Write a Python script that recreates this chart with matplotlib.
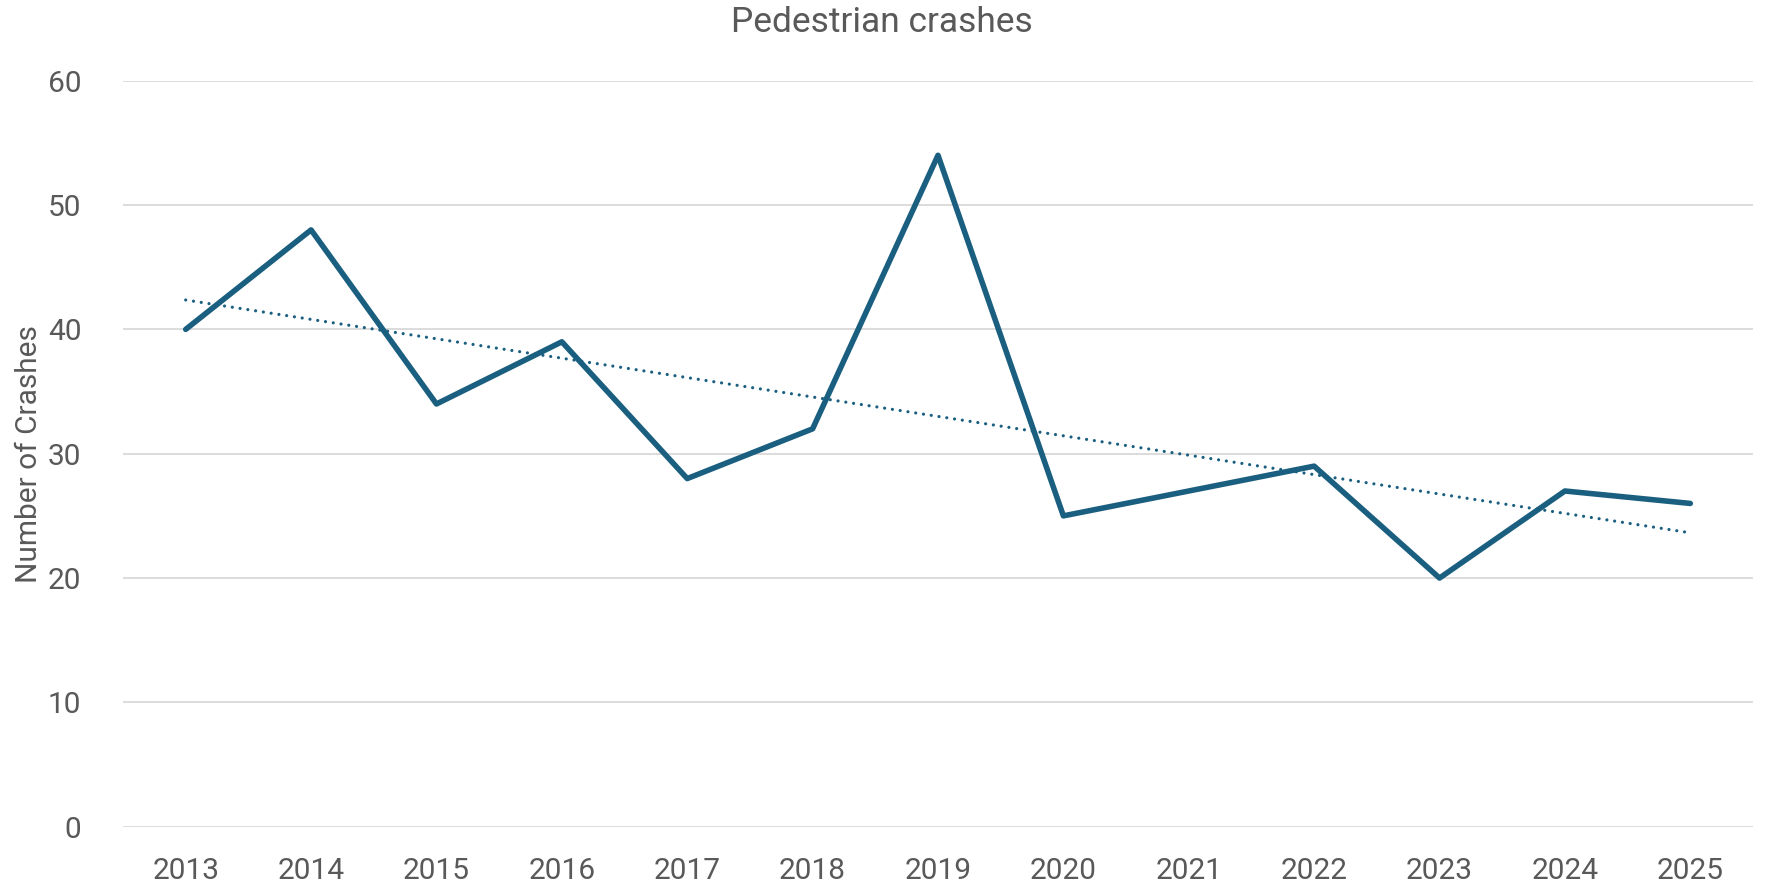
import matplotlib
matplotlib.use("Agg")
import matplotlib.pyplot as plt
import numpy as np

years = [2013, 2014, 2015, 2016, 2017, 2018, 2019, 2020, 2021, 2022, 2023, 2024, 2025]
crashes = [40, 48, 34, 39, 28, 32, 54, 25, 27, 29, 20, 27, 26]
yticks = [0, 10, 20, 30, 40, 50, 60]

plt.rcParams['font.family'] = ['Roboto', 'DejaVu Sans']
txt = '#595959'
col = '#1A5F80'

fig = plt.figure(figsize=(17.67, 8.82), dpi=100)
ax = fig.add_axes([123/1767, 1-826.7/882, (1753-123)/1767, (826.7-80.7)/882])

x = np.array(years, dtype=float)
y = np.array(crashes, dtype=float)
ax.plot(x, y, color=col, lw=4.0, solid_joinstyle='round', solid_capstyle='round', zorder=3)
m, b = np.polyfit(x, y, 1)
ax.plot(x[[0, -1]], m*x[[0, -1]] + b, color=col, lw=2.3, linestyle=(0, (0.01, 2.45)),
        dash_capstyle='round', zorder=2)

ax.set_xlim(2012.5, 2025.5)
ax.set_ylim(0, 60)
ax.set_yticks(yticks)
ax.set_xticks(years)
ax.set_xticklabels([str(v) for v in years])
ax.grid(axis='y', color='#D9D9D9', lw=1.3)
ax.set_axisbelow(True)
for s in ax.spines.values():
    s.set_visible(False)
ax.tick_params(length=0, labelsize=21.5, colors=txt)
ax.tick_params(axis='y', pad=30)
ax.tick_params(axis='x', pad=22)
ax.set_ylabel('Number of Crashes', fontsize=21.5, color=txt)
ax.yaxis.set_label_coords((43 - 123) / 1630, 0.5)
fig.text(882/1767, 1-23/882, 'Pedestrian crashes', ha='center', va='center', fontsize=25.5, color=txt)

fig.savefig('out.png', dpi=100)
